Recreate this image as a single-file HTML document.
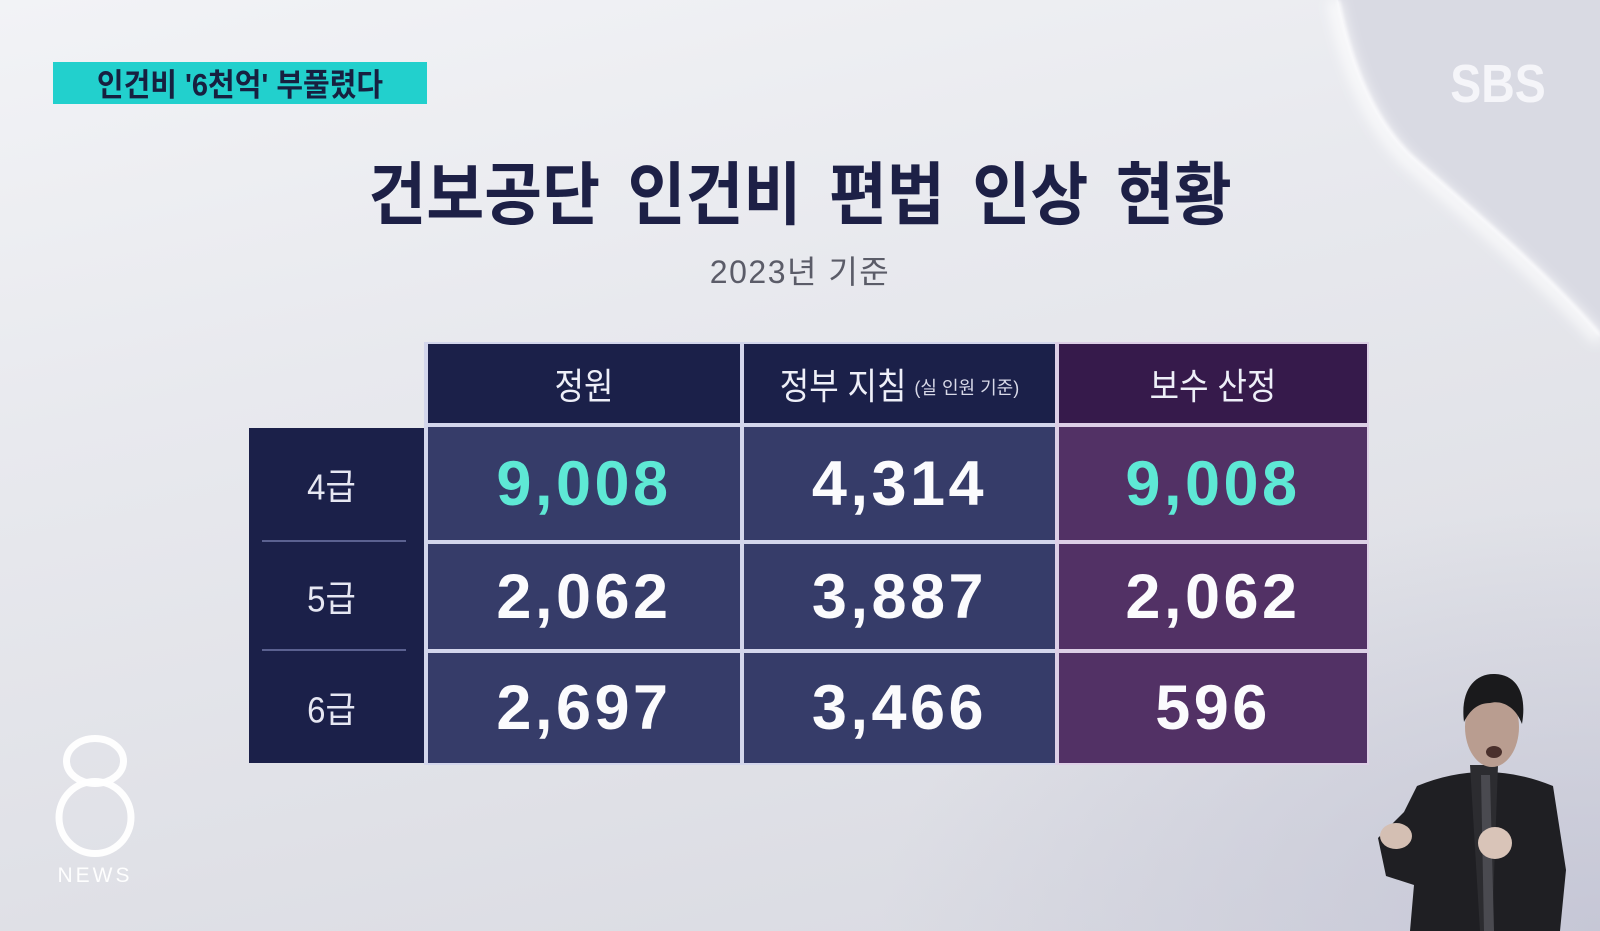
<!DOCTYPE html>
<html>
<head>
<meta charset="utf-8">
<style>
  html,body{margin:0;padding:0;}
  body{width:1600px;height:931px;overflow:hidden;position:relative;
    background:linear-gradient(168deg,#f2f3f6 0%,#e8e9ee 35%,#e0e1e7 70%,#d8d9e1 100%);
    font-family:"Liberation Sans","Noto Sans CJK KR",sans-serif;}
  .abs{position:absolute;}
  .tag{left:53px;top:62px;width:374px;height:42px;background:#22d0cd;
    color:#172040;font-weight:700;font-size:29px;line-height:42px;text-align:center;
    font-family:"Liberation Sans","Noto Sans CJK KR",sans-serif;}
  .tag span{display:inline-block;transform:scaleY(1.08);position:relative;top:3px;}
  .title{left:0;top:166px;width:1600px;height:60px;line-height:60px;text-align:center;
    font-size:63px;font-weight:700;color:#1d2046;word-spacing:10px;}
  .title span{display:inline-block;transform:scaleY(1.09);}
  .sub{left:0;top:255px;width:1600px;height:34px;line-height:34px;text-align:center;
    font-size:32px;color:#5b5c68;letter-spacing:1.5px;}
  .cell{position:absolute;display:flex;align-items:center;justify-content:center;}
  .hd{color:#eeeff8;font-size:32px;}
  .hd span.m{display:inline-block;transform:scaleY(1.14);}
  .num{font-family:"Liberation Sans",sans-serif;font-weight:700;font-size:63px;letter-spacing:3.5px;color:#fbfbfd;}
  .teal{color:#5ee8d5;}
  .lbl{color:#e6e7f2;font-size:33px;}
  .lbl span{display:inline-block;transform:scaleY(1.1);position:relative;left:-5px;}
  .navy{background:#1b2049;}
  .slate{background:#363c69;}
  .phd{background:#361a4b;}
  .pur{background:#523165;}
</style>
</head>
<body>
<svg class="abs" style="left:0;top:0" width="1600" height="931" viewBox="0 0 1600 931">
  <defs>
    <filter id="blur6" x="-20%" y="-20%" width="140%" height="140%"><feGaussianBlur stdDeviation="6"/></filter>
    <filter id="blur2" x="-20%" y="-20%" width="140%" height="140%"><feGaussianBlur stdDeviation="1.5"/></filter>
    <radialGradient id="br" cx="1" cy="1" r="0.8">
      <stop offset="0" stop-color="#c4c5d5" stop-opacity="0.9"/>
      <stop offset="1" stop-color="#c4c5d5" stop-opacity="0"/>
    </radialGradient>
  </defs>
  <rect x="700" y="400" width="900" height="531" fill="url(#br)"/>
  <path d="M1338,0 C1352,70 1375,120 1410,155 C1460,200 1540,265 1600,335 L1600,0 Z" fill="#d9dae3"/>
  <path d="M1334,0 C1348,72 1372,124 1406,159 C1456,204 1536,269 1600,340" fill="none" stroke="#ffffff" stroke-opacity="0.7" stroke-width="14" filter="url(#blur6)"/>
  <path d="M1338,0 C1352,70 1375,120 1410,155 C1460,200 1540,265 1600,335" fill="none" stroke="#fbfbfd" stroke-width="3" filter="url(#blur2)"/>

  <ellipse cx="95" cy="761" rx="28.5" ry="22.5" fill="none" stroke="#ffffff" stroke-opacity="0.95" stroke-width="7"/>
  <circle cx="95" cy="817.5" r="36" fill="none" stroke="#ffffff" stroke-opacity="0.95" stroke-width="7"/>
  <text x="95" y="882" text-anchor="middle" font-family="Liberation Sans, sans-serif" font-size="21" letter-spacing="3" fill="#ffffff" fill-opacity="0.95">NEWS</text>

  <text x="1498" y="102" text-anchor="middle" font-family="Liberation Sans, sans-serif" font-weight="700" font-size="54" fill="#f5f5f9" transform="translate(1498 0) scale(0.86 1) translate(-1498 0)">SBS</text>

  <path d="M1417,786 Q1485,758 1553,786 L1566,870 L1560,931 L1410,931 L1414,885 L1386,876 L1378,838 L1404,812 Z" fill="#1f1f23"/>
  <path d="M1470,765 L1498,765 L1492,931 L1480,931 Z" fill="#2c2c30"/>
  <path d="M1481,775 L1490,775 L1494,931 L1484,931 Z" fill="#4a4a50"/>
  <ellipse cx="1492" cy="727" rx="27" ry="40" fill="#b99d90"/>
  <path d="M1464,722 C1460,690 1475,673 1495,674 C1518,675 1527,695 1522,724 C1515,705 1500,700 1490,703 C1478,703 1470,710 1464,722 Z" fill="#1a1a1c"/>
  <ellipse cx="1494" cy="752" rx="8" ry="6" fill="#4a302c"/>
  <ellipse cx="1396" cy="836" rx="16" ry="13" fill="#d4bfb3"/>
  <ellipse cx="1495" cy="843" rx="17" ry="16" fill="#d9c4b8"/>
</svg>

<div class="abs tag"><span>인건비 '6천억' 부풀렸다</span></div>
<div class="abs title"><span>건보공단 인건비 편법 인상 현황</span></div>
<div class="abs sub">2023년 기준</div>

<div class="abs" style="left:424px;top:342px;width:635px;height:423px;background:#d3d6ec;"></div>
<div class="abs" style="left:1055px;top:342px;width:314px;height:423px;background:#ddcfe6;"></div>

<div class="cell navy hd" style="left:428px;top:344px;width:312px;height:79px;"><span class="m">정원</span></div>
<div class="cell navy hd" style="left:744px;top:344px;width:311px;height:79px;"><span class="m">정부 지침</span><span style="font-size:18px;margin-left:8px;position:relative;top:3px;color:#d8d9e8;">(실 인원 기준)</span></div>
<div class="cell phd hd" style="left:1059px;top:344px;width:308px;height:79px;"><span class="m">보수 산정</span></div>

<div class="abs navy" style="left:249px;top:428px;width:175px;height:335px;"></div>
<div class="abs" style="left:262px;top:540px;width:144px;height:2px;background:#5b6190;"></div>
<div class="abs" style="left:262px;top:649px;width:144px;height:2px;background:#5b6190;"></div>
<div class="cell lbl" style="left:249px;top:428px;width:175px;height:112px;"><span>4급</span></div>
<div class="cell lbl" style="left:249px;top:542px;width:175px;height:107px;"><span>5급</span></div>
<div class="cell lbl" style="left:249px;top:651px;width:175px;height:112px;"><span>6급</span></div>

<div class="cell slate num teal" style="left:428px;top:427px;width:312px;height:113px;">9,008</div>
<div class="cell slate num" style="left:744px;top:427px;width:311px;height:113px;">4,314</div>
<div class="cell pur num teal" style="left:1059px;top:427px;width:308px;height:113px;">9,008</div>
<div class="cell slate num" style="left:428px;top:544px;width:312px;height:105px;">2,062</div>
<div class="cell slate num" style="left:744px;top:544px;width:311px;height:105px;">3,887</div>
<div class="cell pur num" style="left:1059px;top:544px;width:308px;height:105px;">2,062</div>
<div class="cell slate num" style="left:428px;top:653px;width:312px;height:110px;">2,697</div>
<div class="cell slate num" style="left:744px;top:653px;width:311px;height:110px;">3,466</div>
<div class="cell pur num" style="left:1059px;top:653px;width:308px;height:110px;">596</div>

</body>
</html>
